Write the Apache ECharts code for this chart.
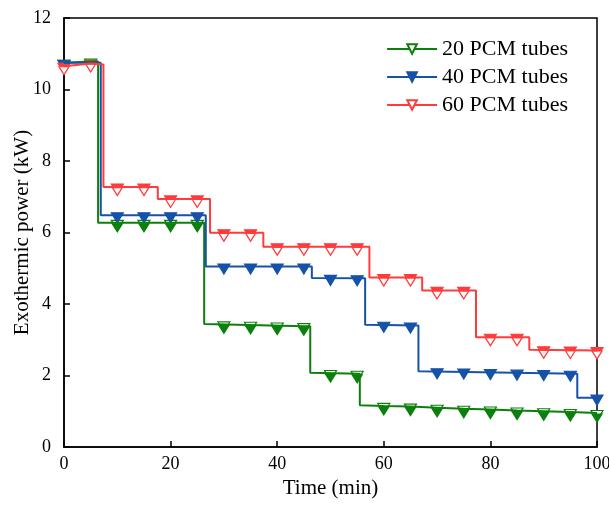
<!DOCTYPE html>
<html>
<head>
<meta charset="utf-8">
<script src="https://cdn.jsdelivr.net/npm/echarts@6/dist/echarts.min.js"></script>
<style>
  html, body { margin: 0; padding: 0; background: #fff; }
  #chart { width: 609px; height: 508px; }
</style>
</head>
<body>
<div id="chart"></div>
<script>
// line vertices [time (min), power (kW)]
const steps20 = [[0, 10.75], [5, 10.78], [6.4, 10.78], [6.4, 6.27], [26.3, 6.27], [26.3, 3.44], [45, 3.38], [46.2, 3.38],
    [46.2, 2.08], [55.5, 2.05], [55.5, 1.17], [60, 1.15], [65, 1.13], [70, 1.10], [75, 1.07], [80, 1.05], [85, 1.02],
    [90, 1.00], [95, 0.98], [100, 0.95]];
const steps40 = [[0, 10.75], [5, 10.75], [6.9, 10.75], [6.9, 6.48], [26.6, 6.48], [26.6, 5.05], [46.5, 5.05],
    [46.5, 4.73], [56.5, 4.72], [56.5, 3.42], [66.5, 3.40], [66.5, 2.12], [96.3, 2.05], [96.3, 1.38], [100, 1.38]];
const steps60 = [[0, 10.65], [5, 10.73], [7.4, 10.7], [7.4, 7.27], [17.6, 7.27], [17.6, 6.94], [27.4, 6.94],
    [27.4, 5.99], [37.4, 5.99], [37.4, 5.6], [57.3, 5.6], [57.3, 4.74], [67.2, 4.74], [67.2, 4.38], [77.3, 4.38],
    [77.3, 3.07], [87.3, 3.07], [87.3, 2.72], [100, 2.7]];

// marker samples every 5 min
const markerTimes = [0, 5, 10, 15, 20, 25, 30, 35, 40, 45, 50, 55, 60, 65, 70, 75, 80, 85, 90, 95, 100];
const marks20 = [10.75, 10.78, 6.27, 6.27, 6.27, 6.27, 3.43, 3.42, 3.40, 3.38, 2.07, 2.05, 1.15, 1.13, 1.10, 1.07, 1.05, 1.02, 1.00, 0.98, 0.95];
const marks40 = [10.75, 10.72, 6.48, 6.48, 6.48, 6.48, 5.05, 5.05, 5.05, 5.05, 4.73, 4.72, 3.42, 3.40, 2.12, 2.11, 2.10, 2.08, 2.07, 2.05, 1.38];
const marks60 = [10.65, 10.73, 7.27, 7.27, 6.94, 6.94, 5.99, 5.99, 5.6, 5.6, 5.6, 5.6, 4.74, 4.74, 4.38, 4.38, 3.07, 3.07, 2.72, 2.71, 2.7];

const names = ['20 PCM tubes', '40 PCM tubes', '60 PCM tubes'];
const xTicks = { min: 0, max: 100, interval: 20 };
const yTicks = { min: 0, max: 12, interval: 2 };

const GREEN = '#0b800b';
const BLUE = '#1552a8';
const RED = '#ff3b3b';
const FONT = '"Liberation Serif", "Times New Roman", serif';

const pairs = (vals) => markerTimes.map((t, i) => [t, vals[i]]);

const lineSeries = (name, data, color, symbol) => ({
    name: name,
    type: 'line',
    data: data,
    showSymbol: false,
    symbol: symbol,
    symbolSize: [12, 10],
    symbolRotate: 180,
    itemStyle: { color: color, borderColor: color, borderWidth: 1.2 },
    lineStyle: { color: color, width: 2 },
    silent: true,
});

const markSeries = (vals, fill, border, size, offsetY) => ({
    type: 'scatter',
    data: pairs(vals),
    symbol: 'triangle',
    symbolRotate: 180,
    symbolSize: size,
    symbolOffset: [0, offsetY],
    itemStyle: { color: fill, borderColor: border, borderWidth: 1.2, opacity: 1 },
    silent: true,
});

const chart = echarts.init(document.getElementById('chart'));

chart.setOption({
    animation: false,
    backgroundColor: '#fff',
    textStyle: { fontFamily: FONT, color: '#000' },
    grid: {
        left: 64, right: 12, top: 18, bottom: 61,
        outerBoundsMode: 'none',
        containLabel: false,
        show: true, borderColor: '#000', borderWidth: 1.5,
    },
    legend: {
        data: names,
        orient: 'vertical',
        right: 36,
        top: 33,
        itemWidth: 50,
        itemHeight: 12,
        itemGap: 6,
        textStyle: { fontFamily: FONT, fontSize: 22, color: '#000' },
    },
    xAxis: {
        type: 'value',
        min: xTicks.min, max: xTicks.max, interval: xTicks.interval,
        name: 'Time (min)',
        nameLocation: 'middle',
        nameGap: 31,
        nameMoveOverlap: false,
        nameTextStyle: { fontFamily: FONT, fontSize: 21, color: '#000' },
        axisLine: { show: true, lineStyle: { color: '#000', width: 1.5 } },
        axisTick: { show: true, inside: true, length: 6, lineStyle: { color: '#000', width: 1.5 } },
        axisLabel: { fontFamily: FONT, fontSize: 18, color: '#000', margin: 8 },
        splitLine: { show: false },
    },
    yAxis: {
        type: 'value',
        min: yTicks.min, max: yTicks.max, interval: yTicks.interval,
        name: 'Exothermic power (kW)',
        nameLocation: 'middle',
        nameGap: 42,
        nameMoveOverlap: false,
        nameTextStyle: { fontFamily: FONT, fontSize: 21, color: '#000', verticalAlign: 'middle' },
        axisLine: { show: true, lineStyle: { color: '#000', width: 1.5 } },
        axisTick: { show: true, inside: true, length: 6, lineStyle: { color: '#000', width: 1.5 } },
        axisLabel: { fontFamily: FONT, fontSize: 18, color: '#000', margin: 13 },
        splitLine: { show: false },
    },
    series: [
        lineSeries(names[0], steps20, GREEN, 'emptyTriangle'),
        markSeries(marks20, '#fff', GREEN, [12, 10], 2.5),
        markSeries(marks20, GREEN, GREEN, [10, 8], 5),
        lineSeries(names[1], steps40, BLUE, 'triangle'),
        markSeries(marks40, BLUE, BLUE, [12, 10], 2.5),
        lineSeries(names[2], steps60, RED, 'emptyTriangle'),
        markSeries(marks60, RED, RED, [12, 10], 2),
        markSeries(marks60, '#fff', RED, [10, 8], 4.5),
    ],
});
</script>
</body>
</html>
